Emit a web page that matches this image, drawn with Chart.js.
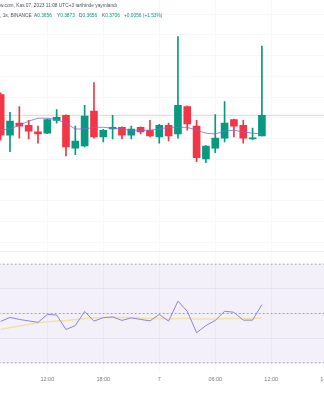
<!DOCTYPE html>
<html>
<head>
<meta charset="utf-8">
<script src="https://cdn.jsdelivr.net/npm/chart.js@4.4.0/dist/chart.umd.min.js"></script>
<style>
  html, body { margin: 0; padding: 0; background: #fff; overflow: hidden; width: 324px; height: 400px; }
  #wrap { position: relative; width: 340px; height: 400px; }
  .hdr { position: absolute; font-family: "Liberation Sans", Arial, sans-serif; font-size: 4.8px; line-height: 1; color: #50535e; white-space: nowrap; }
  .up { color: #089981; }
</style>
</head>
<body>
<div id="wrap">
  <canvas id="chart" width="340" height="400"></canvas>
  <div class="hdr" style="left:0;top:3.6px">w.com, Kas 07, 2023 11:08 UTC+3 tarihinde yayınlandı</div>
  <div class="hdr" style="left:0;top:14.3px">, 1s, BINANCE</div>
  <div class="hdr" style="left:34px;top:14.3px">A<span class="up">0.3656</span></div>
  <div class="hdr" style="left:57px;top:14.3px">Y<span class="up">0.3873</span></div>
  <div class="hdr" style="left:79px;top:14.3px">D<span class="up">0.3656</span></div>
  <div class="hdr" style="left:102px;top:14.3px">K<span class="up">0.3706</span></div>
  <div class="hdr up" style="left:124px;top:14.3px">+0.0056 (+1.53%)</div>
</div>
<script>
// hourly candles, Nov 6 07:00 -> Nov 7 11:00
const times = ['07:00','08:00','09:00','10:00','11:00','12:00','13:00','14:00','15:00','16:00',
  '17:00','18:00','19:00','20:00','21:00','22:00','23:00','00:00','01:00','02:00',
  '03:00','04:00','05:00','06:00','07:00','08:00','09:00','10:00','11:00'];
const opens  = [0.3756,0.3658,0.3687,0.3682,0.3666,0.3663,0.3694,0.3706,0.3627,0.3632,
  0.3716,0.3654,0.3673,0.3677,0.3658,0.3677,0.3670,0.3654,0.3682,0.3661,
  0.3727,0.3680,0.3601,0.3627,0.3651,0.3696,0.3682,0.3649,0.3656];
const highs  = [0.3760,0.3713,0.3727,0.3694,0.3680,0.3697,0.3720,0.3707,0.3680,0.3730,
  0.3785,0.3672,0.3706,0.3678,0.3680,0.3678,0.3694,0.3684,0.3687,0.3896,
  0.3729,0.3694,0.3633,0.3708,0.3739,0.3697,0.3694,0.3675,0.3873];
const lows   = [0.3646,0.3618,0.3651,0.3649,0.3639,0.3662,0.3687,0.3608,0.3611,0.3630,
  0.3651,0.3642,0.3649,0.3649,0.3649,0.3661,0.3654,0.3639,0.3644,0.3651,
  0.3670,0.3594,0.3592,0.3616,0.3642,0.3654,0.3639,0.3648,0.3656];
const closes = [0.3658,0.3692,0.3680,0.3668,0.3661,0.3696,0.3701,0.3630,0.3644,0.3704,
  0.3654,0.3670,0.3677,0.3658,0.3673,0.3666,0.3656,0.3682,0.3656,0.3730,
  0.3685,0.3604,0.3632,0.3651,0.3687,0.3680,0.3651,0.3651,0.3706];
const priceMa = [0.3670,0.3673,0.3682,0.3692,0.3699,0.3699,0.3696,0.3687,0.3673,0.3673,
  0.3677,0.3677,0.3675,0.3673,0.3670,0.3670,0.3670,0.3673,0.3677,0.3677,
  0.3677,0.3670,0.3663,0.3661,0.3668,0.3670,0.3666,0.3663,0.3661];
const rsi   = [46.8,48.4,47.6,47.0,46.4,49.6,49.4,43.5,45.1,50.8,46.9,48.3,48.6,47.2,48.2,
  47.6,47.0,49.6,46.9,55.0,50.9,42.2,45.1,47.2,50.9,50.5,47.3,47.3,53.6];
const rsiMa = [43.5,44.3,44.9,45.5,46.2,46.6,47.0,47.2,47.6,48.0,48.2,48.4,48.5,48.4,48.4,
  48.2,48.0,48.0,47.8,48.0,48.0,47.8,47.8,47.8,48.0,48.0,48.0,48.0,48.2];
const lastClose = 0.3706;

const tickHours  = [5, 11, 17, 23, 29, 35];
const tickLabels = ['12:00', '18:00', '7', '06:00', '12:00', '18:00'];
const priceGrid  = [0.395, 0.390, 0.385, 0.380, 0.375, 0.370, 0.365, 0.360, 0.355, 0.350, 0.345, 0.340];
const rsiGrid    = [75, 60, 40];
const rsiLevels  = [70, 50, 30];

const GREEN = '#089981', RED = '#f23645';
const X_MIN = -0.072, X_MAX = 36.37;
const span = [X_MIN - 1, X_MAX + 1];

const idx = times.map((t, i) => i);
const candleColor = idx.map(i => closes[i] >= opens[i] ? GREEN : RED);
const levelLine = (v, extra) => Object.assign({
  type: 'line', yAxisID: 'rsi', data: span.map(x => ({x, y: v})),
  borderColor: '#a3a6b4', borderWidth: 1, borderDash: [2, 2], pointRadius: 0, fill: false, order: 5
}, extra || {});

new Chart(document.getElementById('chart'), {
  type: 'bar',
  data: {
    datasets: [
      { label: 'wick', data: idx.map(i => ({x: i, y: [lows[i], highs[i]]})),
        backgroundColor: candleColor, barThickness: 1, grouped: false, yAxisID: 'y', order: 3 },
      { label: 'body', data: idx.map(i => ({x: i, y: [opens[i], closes[i]]})),
        backgroundColor: candleColor, barThickness: 7, minBarLength: 1, grouped: false, yAxisID: 'y', order: 2 },
      { type: 'line', label: 'MA', data: idx.map(i => ({x: i, y: priceMa[i]})),
        borderColor: 'rgba(122,110,222,0.8)', borderWidth: 1, pointRadius: 0, yAxisID: 'y', order: 1 },
      { type: 'line', label: 'last', data: span.map(x => ({x, y: lastClose})),
        borderColor: '#d6d8df', borderWidth: 1, pointRadius: 0, yAxisID: 'y', order: 6 },
      levelLine(rsiLevels[0], { backgroundColor: 'rgba(126,87,194,0.09)', fill: { value: rsiLevels[2] } }),
      levelLine(rsiLevels[1]),
      levelLine(rsiLevels[2]),
      { type: 'line', label: 'RSI MA', data: idx.map(i => ({x: i, y: rsiMa[i]})),
        borderColor: '#efe4a6', borderWidth: 1.5, pointRadius: 0, yAxisID: 'rsi', order: 1 },
      { type: 'line', label: 'RSI', data: idx.map(i => ({x: i, y: rsi[i]})),
        borderColor: '#9184d4', borderWidth: 1, pointRadius: 0, yAxisID: 'rsi', order: 0 }
    ]
  },
  options: {
    responsive: false,
    animation: false,
    layout: { padding: { left: 0, right: 0, top: 0, bottom: 13 } },
    plugins: { legend: { display: false }, tooltip: { enabled: false } },
    scales: {
      x: {
        type: 'linear', min: X_MIN, max: X_MAX, offset: false,
        afterBuildTicks: s => { s.ticks = tickHours.map(v => ({value: v})); },
        ticks: { callback: (v, i) => tickLabels[i], autoSkip: false, maxRotation: 0, padding: 4,
                 color: '#787b86', font: { family: 'Liberation Sans', size: 5.5 } },
        grid: { color: '#f6f7f9', drawTicks: false, offset: false },
        border: { display: false }
      },
      y: {
        position: 'right', min: 0.308554, max: 0.398434,
        afterBuildTicks: s => { s.ticks = priceGrid.map(v => ({value: v})); },
        ticks: { display: false },
        grid: { color: '#f6f7f9', drawTicks: false },
        border: { display: false }
      },
      rsi: {
        position: 'right', min: 26.11, max: 177.13,
        afterBuildTicks: s => { s.ticks = rsiGrid.map(v => ({value: v})); },
        ticks: { display: false },
        grid: { color: c => c.tick.value === rsiGrid[0] ? '#eceef2' : '#f1f1f6', drawTicks: false },
        border: { display: false }
      }
    }
  }
});
</script>
</body>
</html>
